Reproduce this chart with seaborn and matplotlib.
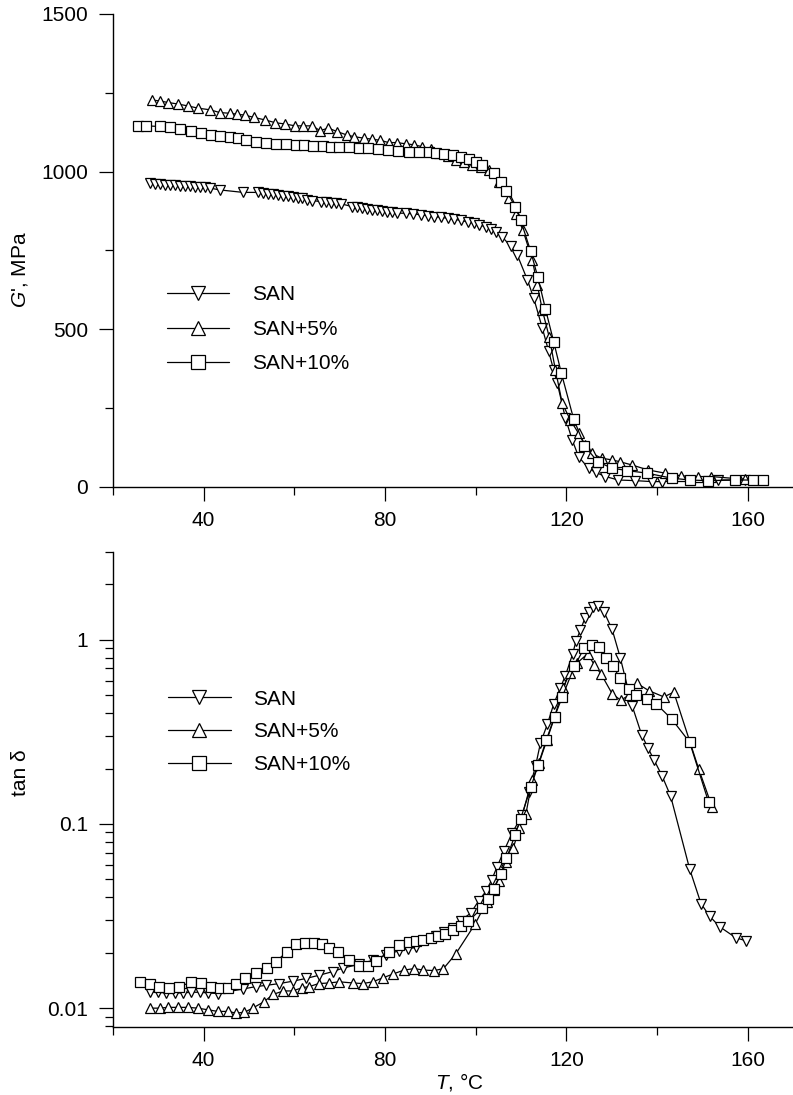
import matplotlib
matplotlib.use("Agg")
import matplotlib.pyplot as plt
import matplotlib.ticker as mticker
import pandas as pd
import seaborn as sns

samples = ["SAN", "SAN+5%", "SAN+10%"]
marker_map = {"SAN": "v", "SAN+5%": "^", "SAN+10%": "s"}

# --- storage modulus G', MPa (top panel) ---
san_T_g = [28.1, 29.2, 30.3, 31.4, 32.5, 33.6, 34.7, 35.8, 36.9, 38.0, 39.1, 40.2, 41.3,
           43.5, 48.7, 51.9, 53.0, 54.1, 55.2, 56.3, 57.4, 58.5, 59.6, 60.7, 61.8, 62.9, 64.0,
           65.8, 66.9, 68.0, 69.1, 70.2, 72.8, 73.9, 75.0, 76.1, 77.2, 78.3, 79.4, 80.5, 81.6, 82.7,
           84.6, 86.1, 87.9, 89.4, 90.8, 92.3, 93.8, 95.3, 96.7, 98.2, 99.7, 100.8, 102.2, 103.3,
           104.4, 105.9, 107.7, 109.2, 111.4, 112.8, 114.7, 116.1, 117.2, 118.0, 119.8, 121.3,
           122.7, 124.9, 126.5, 128.6, 131.5, 135.2, 138.8, 141.0, 153.5, 159.4]
san_g = [964, 962, 961, 959, 958, 957, 955, 954, 953, 952, 951, 950, 948,
         942, 934, 934, 932, 930, 928, 926, 924, 921, 919, 917, 915, 911, 908,
         905, 903, 901, 899, 898, 889, 887, 885, 882, 879, 877, 875, 873, 871, 868,
         868, 866, 863, 860, 857, 855, 852, 849, 845, 841, 836, 831, 825, 817,
         810, 792, 764, 735, 657, 599, 504, 430, 371, 329, 218, 149,
         96, 59, 46, 33, 22, 20, 17, 17, 22, 22]

san5_T_g = [28.5, 30.3, 32.2, 34.4, 36.6, 38.8, 41.4, 43.6, 45.8, 47.3, 49.1, 51.0, 53.5, 55.8,
            57.9, 60.2, 62.0, 63.9, 65.7, 67.5, 69.4, 71.6, 73.1, 75.3, 77.1, 79.0, 80.8, 82.6,
            84.6, 86.4, 88.2, 90.1, 91.9, 93.8, 95.6, 97.4, 99.3, 101.1, 103.0, 105.2, 107.4,
            108.9, 110.4, 112.5, 113.6, 114.7, 116.2, 117.6, 119.1, 120.9, 122.7, 124.2, 125.6,
            127.8, 130.0, 131.8, 134.4, 138.0, 141.7, 145.4, 149.1, 152.0, 159.4]
san5_g = [1227, 1224, 1219, 1214, 1208, 1201, 1196, 1187, 1185, 1182, 1179, 1172, 1164, 1155,
          1151, 1145, 1145, 1145, 1130, 1138, 1127, 1116, 1111, 1106, 1103, 1099, 1092, 1092,
          1088, 1085, 1079, 1071, 1058, 1048, 1037, 1029, 1021, 1014, 1005, 968, 915,
          867, 815, 720, 641, 561, 477, 371, 265, 212, 170, 133, 107,
          91, 86, 80, 70, 54, 44, 35, 33, 33, 24]

san10_T_g = [25.5, 27.3, 30.3, 32.5, 34.7, 37.3, 39.5, 41.7, 43.5, 45.7, 47.5, 49.4, 51.6, 53.8,
             56.0, 58.2, 60.4, 62.2, 64.1, 66.3, 68.1, 69.9, 72.1, 74.3, 76.2, 78.4, 80.6, 82.8,
             85.3, 87.5, 89.7, 91.2, 93.1, 94.9, 96.7, 98.5, 100.0, 101.5, 104.0, 105.5, 106.8,
             108.7, 109.9, 112.1, 113.7, 115.4, 117.2, 118.9, 121.6, 124.0, 126.9, 130.0, 133.3,
             137.7, 143.2, 147.2, 151.3, 157.2, 161.2, 163.4]
san10_g = [1145, 1145, 1143, 1140, 1134, 1129, 1121, 1116, 1113, 1111, 1106, 1100, 1095, 1090,
           1088, 1088, 1084, 1084, 1082, 1082, 1079, 1079, 1077, 1076, 1074, 1071, 1069, 1066,
           1062, 1061, 1062, 1059, 1057, 1054, 1046, 1040, 1029, 1021, 996, 967, 939,
           888, 847, 749, 666, 564, 461, 361, 216, 131, 80, 60, 52,
           44, 28, 22, 20, 22, 22, 22]

# --- loss factor tan delta (bottom panel) ---
san_T_d = [28.1, 29.9, 31.7, 33.6, 35.4, 37.3, 39.1, 40.9, 43.1, 48.6, 51.6, 53.8, 56.7, 59.6,
           62.6, 65.5, 68.5, 70.7, 74.3, 77.3, 80.2, 83.1, 85.0, 86.8, 91.2, 93.0, 94.9, 96.7,
           98.9, 100.7, 102.3, 103.5, 104.7, 106.2, 108.0, 110.3, 111.7, 113.2, 114.3, 115.8,
           117.2, 118.7, 119.8, 121.4, 122.1, 123.1, 124.1, 124.9, 125.9, 127.0, 128.3, 130.1,
           131.9, 134.5, 136.6, 138.0, 139.3, 141.1, 143.0, 147.2, 149.7, 151.6, 153.8, 157.4, 159.7]
san_d = [0.0122, 0.0122, 0.0121, 0.0121, 0.0121, 0.0122, 0.0122, 0.0121, 0.0120, 0.0127, 0.0131,
         0.0133, 0.0136, 0.0140, 0.0145, 0.0151, 0.0158, 0.0165, 0.0173, 0.0182, 0.0195, 0.0205,
         0.0210, 0.0214, 0.0248, 0.0260, 0.0272, 0.0299, 0.0328, 0.0384, 0.0432, 0.0495, 0.0584,
         0.071, 0.089, 0.112, 0.150, 0.206, 0.276, 0.347, 0.447, 0.55, 0.64, 0.84, 0.98, 1.13,
         1.31, 1.42, 1.51, 1.52, 1.42, 1.14, 0.80, 0.44, 0.306, 0.259, 0.224, 0.183, 0.142,
         0.057, 0.037, 0.0316, 0.0277, 0.0241, 0.0232]

san5_T_d = [28.1, 30.3, 32.1, 34.3, 36.5, 38.7, 40.9, 43.1, 45.3, 47.2, 49.0, 50.8, 53.2, 55.4,
            57.6, 59.6, 61.7, 63.3, 65.4, 67.7, 69.9, 72.9, 75.1, 77.3, 79.5, 81.7, 84.2, 86.5,
            88.4, 90.9, 92.9, 95.6, 99.9, 102.4, 104.1, 105.2, 106.7, 108.3, 109.6, 111.1, 112.5,
            114.0, 115.7, 117.4, 119.3, 120.8, 122.4, 124.7, 126.2, 127.7, 130.1, 132.0, 133.8,
            135.6, 138.2, 141.5, 143.7, 149.2, 152.2]
san5_d = [0.0100, 0.0100, 0.0101, 0.0101, 0.0101, 0.0100, 0.0098, 0.0096, 0.0096, 0.0094, 0.0095,
          0.0100, 0.0108, 0.0119, 0.0124, 0.0124, 0.0129, 0.0131, 0.0136, 0.0137, 0.0139, 0.0137,
          0.0136, 0.0139, 0.0146, 0.0153, 0.0161, 0.0164, 0.0161, 0.0160, 0.0164, 0.0197, 0.0287,
          0.0377, 0.0436, 0.049, 0.062, 0.074, 0.095, 0.114, 0.174, 0.215, 0.285, 0.38, 0.55,
          0.66, 0.75, 0.84, 0.73, 0.65, 0.51, 0.47, 0.50, 0.58, 0.53, 0.49, 0.52, 0.199, 0.123]

san10_T_d = [25.9, 28.1, 30.1, 32.3, 34.5, 37.3, 39.5, 41.7, 43.6, 45.3, 47.2, 49.2, 51.6, 54.0,
             56.0, 58.4, 60.4, 62.4, 64.3, 66.1, 67.7, 69.6, 72.1, 74.2, 76.2, 78.1, 80.8, 83.0,
             85.2, 86.8, 88.4, 90.1, 91.6, 93.2, 94.9, 96.7, 98.4, 101.4, 102.8, 104.1, 105.5,
             106.8, 108.7, 109.9, 112.2, 113.8, 115.6, 117.4, 119.1, 121.8, 123.9, 125.6, 127.2,
             128.8, 130.3, 131.8, 133.8, 135.4, 137.8, 139.8, 143.3, 147.2, 151.4]
san10_d = [0.0138, 0.0135, 0.0130, 0.0129, 0.0131, 0.0138, 0.0137, 0.0130, 0.0128, 0.0129, 0.0135,
           0.0145, 0.0156, 0.0166, 0.0179, 0.0203, 0.0223, 0.0227, 0.0227, 0.0223, 0.0212, 0.0203,
           0.0183, 0.0170, 0.0170, 0.0181, 0.0201, 0.0220, 0.0229, 0.0231, 0.0235, 0.0240, 0.0245,
           0.0253, 0.0266, 0.0281, 0.0297, 0.0349, 0.0393, 0.0446, 0.0533, 0.065, 0.0872, 0.1066,
           0.159, 0.210, 0.287, 0.382, 0.49, 0.72, 0.90, 0.94, 0.91, 0.80, 0.72, 0.62, 0.54,
           0.50, 0.475, 0.45, 0.370, 0.278, 0.131]


def long_frame(parts, col):
    frames = []
    for name, t, v in parts:
        frames.append(pd.DataFrame({"T": t, col: v, "sample": name}))
    return pd.concat(frames, ignore_index=True)


df_g = long_frame([("SAN", san_T_g, san_g), ("SAN+5%", san5_T_g, san5_g),
                   ("SAN+10%", san10_T_g, san10_g)], "G")
df_d = long_frame([("SAN", san_T_d, san_d), ("SAN+5%", san5_T_d, san5_d),
                   ("SAN+10%", san10_T_d, san10_d)], "tand")

sns.set_style("ticks")
plt.rcParams["font.family"] = ["Liberation Sans", "DejaVu Sans"]
plt.rcParams["mathtext.fontset"] = "custom"
plt.rcParams["mathtext.it"] = "Liberation Sans:italic"
plt.rcParams["mathtext.rm"] = "Liberation Sans"
for key in ["text.color", "axes.labelcolor", "xtick.color", "ytick.color", "axes.edgecolor"]:
    plt.rcParams[key] = "black"

FS = 15
fig = plt.figure(figsize=(7.93, 10.95), dpi=100)
ax1 = fig.add_axes([0.1425, 0.5553, 0.8575, 0.432])
ax2 = fig.add_axes([0.1425, 0.0621, 0.8575, 0.4338])

line_kws = dict(color="black", linewidth=0.9, markersize=7.5, markerfacecolor="white",
                markeredgecolor="black", markeredgewidth=0.9)

for ax, df, col in [(ax1, df_g, "G"), (ax2, df_d, "tand")]:
    sns.lineplot(data=df, x="T", y=col, hue="sample", style="sample", hue_order=samples,
                 style_order=samples, markers=marker_map, dashes=False,
                 palette=["black"] * 3, errorbar=None, legend=False, ax=ax, **line_kws)

# axes styling
legend_pos = {0: ((0.079, 0.426), 0.74), 1: ((0.081, 0.710), 0.66)}
for i, ax in enumerate((ax1, ax2)):
    sns.despine(ax=ax)
    ax.set_xlim(20, 170)
    ax.xaxis.set_major_locator(mticker.MultipleLocator(40))
    ax.xaxis.set_minor_locator(mticker.MultipleLocator(20))
    ax.tick_params(which="major", length=10, width=0.9, labelsize=FS, pad=7, direction="out")
    ax.tick_params(which="minor", length=5.5, width=0.9, direction="out")
    ax.tick_params(axis="y", which="major", pad=8)
    for sp in ax.spines.values():
        sp.set_linewidth(1.0)
    ax.set_xlabel("")
    anchor, spacing = legend_pos[i]
    ax.legend(ax.lines[:3], samples, loc="upper left", frameon=False, fontsize=FS,
              handlelength=3.0, handletextpad=1.1, labelspacing=spacing, borderpad=0,
              borderaxespad=0, markerscale=1.35, bbox_to_anchor=anchor)

ax1.set_ylim(0, 1500)
ax1.yaxis.set_major_locator(mticker.MultipleLocator(500))
ax1.yaxis.set_minor_locator(mticker.MultipleLocator(250))
ax1.set_ylabel("$G$', MPa", fontsize=FS)
ax1.yaxis.set_label_coords(-0.122, 0.46)

ax2.set_yscale("log")
ax2.set_ylim(0.0079, 3.0)
ax2.yaxis.set_major_locator(mticker.FixedLocator([0.01, 0.1, 1]))
ax2.yaxis.set_major_formatter(mticker.FuncFormatter(lambda v, p: f"{v:g}"))
ax2.yaxis.set_minor_locator(mticker.LogLocator(base=10, subs=range(2, 10)))
ax2.yaxis.set_minor_formatter(mticker.NullFormatter())
ax2.set_ylabel("tan δ", fontsize=FS)
ax2.yaxis.set_label_coords(-0.122, 0.536)
ax2.set_xlabel("$T$, °C", fontsize=FS)
ax2.xaxis.set_label_coords(0.51, -0.093)

fig.savefig("out.png", dpi=100)
